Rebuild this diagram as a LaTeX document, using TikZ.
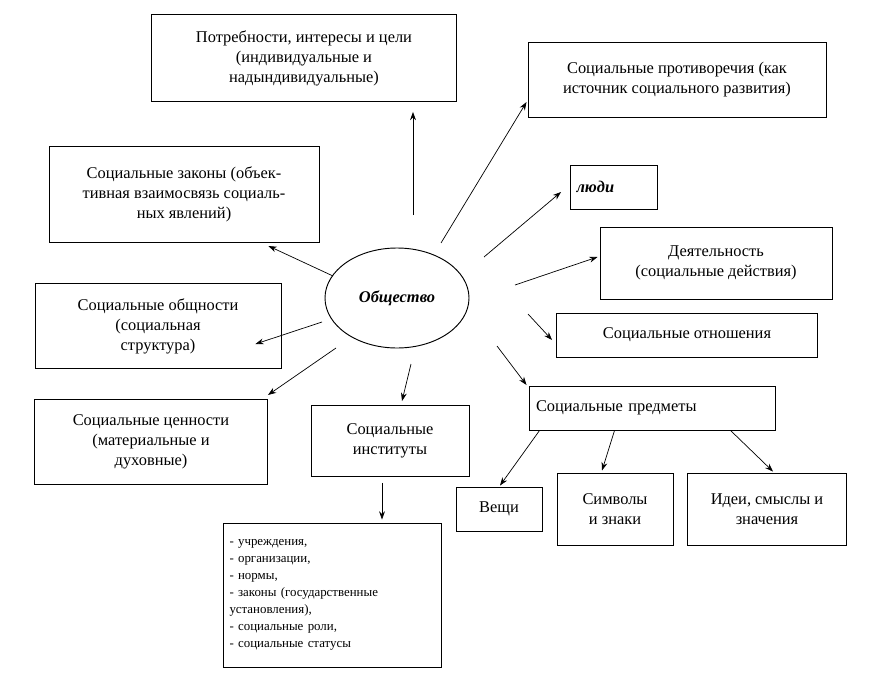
\documentclass[tikz,border=0pt]{standalone}
\usepackage{fontspec}
\setmainfont{Liberation Serif}
\usetikzlibrary{arrows.meta, shapes.geometric, calc, positioning}

\begin{document}
\begin{tikzpicture}[x=0.03cm, y=-0.03cm, >={Stealth[length=7pt,width=5pt]},
  box/.style={draw, thick, align=center, font=\fontsize{14}{17}\selectfont, inner sep=2pt},
  arr/.style={->, semithick}]
  \useasboundingbox (0,0) rectangle (880,678);

  % center
  \node[draw, thick, ellipse, minimum width=144*0.03cm, minimum height=100*0.03cm,
    font=\fontsize{14}{17}\selectfont\bfseries\itshape] (soc) at (397,298) {Общество};

  % boxes around
  \node[box, minimum width=305*0.03cm, minimum height=87*0.03cm] (needs) at (304,58)
    {Потребности, интересы и цели\\(индивидуальные и\\надындивидуальные)};
  \node[box, minimum width=298*0.03cm, minimum height=75*0.03cm] (contra) at (677,80)
    {Социальные противоречия (как\\источник социального развития)};
  \node[box, minimum width=87*0.03cm, minimum height=44*0.03cm, align=left,
    font=\fontsize{14}{17}\selectfont\bfseries\itshape, text width=75*0.03cm] (people) at (614,187) {люди};
  \node[box, minimum width=232*0.03cm, minimum height=72*0.03cm] (act) at (716,263)
    {Деятельность\\(социальные действия)};
  \node[box, minimum width=261*0.03cm, minimum height=44*0.03cm] (rel) at (687,335)
    {Социальные отношения};
  \node[box, minimum width=246*0.03cm, minimum height=44*0.03cm, align=left,
    text width=232*0.03cm] (obj) at (652,408) {Социальные предметы};
  \node[box, minimum width=86*0.03cm, minimum height=44*0.03cm] (things) at (499,509) {Вещи};
  \node[box, minimum width=116*0.03cm, minimum height=72*0.03cm] (symb) at (615,509)
    {Символы\\и знаки};
  \node[box, minimum width=159*0.03cm, minimum height=72*0.03cm] (ideas) at (767,509)
    {Идеи, смыслы и\\значения};
  \node[box, minimum width=270*0.03cm, minimum height=96*0.03cm] (laws) at (184,194)
    {Социальные законы (объек-\\тивная взаимосвязь социаль-\\ных явлений)};
  \node[box, minimum width=246*0.03cm, minimum height=85*0.03cm] (comm) at (158,326)
    {Социальные общности\\(социальная\\структура)};
  \node[box, minimum width=233*0.03cm, minimum height=85*0.03cm] (vals) at (151,442)
    {Социальные ценности\\(материальные и\\духовные)};
  \node[box, minimum width=158*0.03cm, minimum height=71*0.03cm] (inst) at (390,441)
    {Социальные\\институты};
  \node[box, minimum width=218*0.03cm, minimum height=144*0.03cm, align=left,
    font=\fontsize{11}{14.5}\selectfont, text width=205*0.03cm] (list) at (332,595)
    {- учреждения,\\- организации,\\- нормы,\\- законы (государственные\\установления),\\- социальные роли,\\- социальные статусы};

  % connectors
  \draw[arr] ($(soc)+(16,-83)$) -- ($(needs.south)+(109,10)$);
  \draw[arr] ($(soc)+(44,-55)$) -- ($(contra.west)+(-1,22)$);
  \draw[arr] ($(soc)+(87,-41)$) -- ($(people.west)+(-9,5)$);
  \draw[arr] ($(soc)+(118,-13)$) -- ($(act.west)+(-2,-6)$);
  \draw[arr] ($(soc)+(131,16)$) -- ($(rel.west)+(-4,5)$);
  \draw[arr] ($(soc)+(100,48)$) -- ($(obj.west)+(-2,-23)$);
  \draw[arr] ($(soc)+(14,66)$) -- ($(inst.north)+(12,-4)$);
  \draw[arr] ($(soc)+(-75,24)$) -- ($(comm.east)+(-26,18)$);
  \draw[arr] ($(soc)+(-61,50)$) -- ($(vals.east)+(0,-47)$);
  \draw[arr] ($(soc)+(-64,-22)$) -- ($(laws.east)+(-51,52)$);
  \draw[arr] ($(obj.south west)+(11,0)$) -- ($(things.north)+(1,-1)$);
  \draw[arr] ($(obj.south west)+(86,0)$) -- ($(symb.north)+(-13,-2)$);
  \draw[arr] ($(obj.south west)+(202,0)$) -- ($(ideas.north)+(6,-1)$);
  \draw[arr] ($(inst.south)+(-8,6)$) -- ($(list.north)+(50,-3)$);
\end{tikzpicture}
\end{document}
